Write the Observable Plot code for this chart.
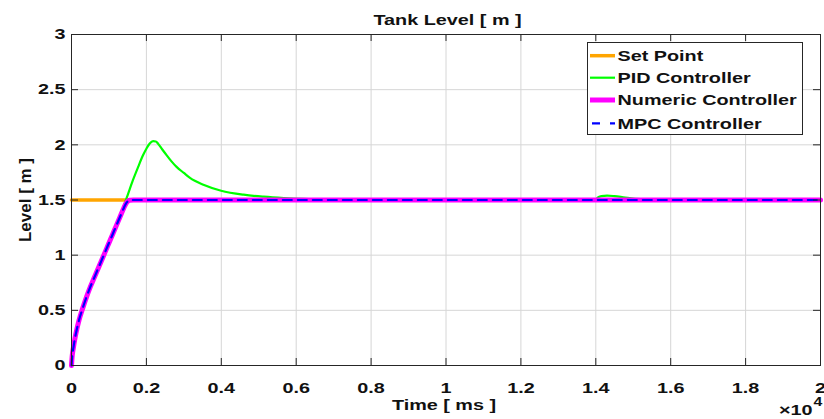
<!DOCTYPE html>
<html><head><meta charset="utf-8">
<script src="https://cdn.jsdelivr.net/npm/d3@7"></script>
<script src="https://cdn.jsdelivr.net/npm/@observablehq/plot@0.6"></script>
<style>body{margin:0;background:#fff;overflow:hidden}</style>
</head><body><div id="chart"></div>
<script>
// ---- data (time in ms, level in m) ----
const setTime  = [0, 20000];
const setLevel = [1.5, 1.5];

const pidTime  = [0, 20, 50, 100, 150, 200, 300, 400, 500, 600, 700, 800, 900, 1000, 1100, 1200, 1300, 1400, 1500, 1640, 1780, 1909, 2000, 2089, 2179, 2250, 2312, 2420, 2538, 2670, 2806, 3000, 3164, 3522, 3997, 4597, 5134, 5672, 6200, 7000, 8000, 14000, 14050, 14150, 14300, 14500, 14700, 14900, 15200, 15600, 16000, 20000];
const pidLevel = [0, 0.09, 0.16, 0.26, 0.34, 0.41, 0.52, 0.62, 0.71, 0.79, 0.87, 0.95, 1.03, 1.11, 1.19, 1.27, 1.35, 1.45, 1.545, 1.68, 1.80, 1.905, 1.965, 2.012, 2.033, 2.03, 2.01, 1.96, 1.907, 1.85, 1.80, 1.745, 1.70, 1.638, 1.584, 1.548, 1.53, 1.518, 1.51, 1.504, 1.5, 1.5, 1.522, 1.535, 1.54, 1.535, 1.527, 1.518, 1.508, 1.502, 1.5, 1.5];

const numTime  = [0, 20, 50, 100, 150, 200, 300, 400, 500, 600, 700, 800, 900, 1000, 1100, 1200, 1300, 1400, 1450, 1500, 1550, 1650, 2000, 20000];
const numLevel = [0, 0.09, 0.16, 0.26, 0.34, 0.41, 0.52, 0.62, 0.71, 0.79, 0.87, 0.95, 1.03, 1.11, 1.19, 1.27, 1.35, 1.43, 1.465, 1.487, 1.497, 1.5, 1.5, 1.5];

const mpcTime  = [0, 20, 50, 100, 150, 200, 300, 400, 500, 600, 700, 800, 900, 1000, 1100, 1200, 1300, 1400, 1450, 1500, 1550, 1650, 2000, 20000];
const mpcLevel = [0, 0.09, 0.16, 0.26, 0.34, 0.41, 0.52, 0.62, 0.71, 0.79, 0.87, 0.95, 1.03, 1.11, 1.19, 1.27, 1.35, 1.43, 1.465, 1.487, 1.497, 1.5, 1.5, 1.5];

const xTicks = [0, 2000, 4000, 6000, 8000, 10000, 12000, 14000, 16000, 18000, 20000];
const xTickLabels = ["0", "0.2", "0.4", "0.6", "0.8", "1", "1.2", "1.4", "1.6", "1.8", "2"];
const yTicks = [0, 0.5, 1, 1.5, 2, 2.5, 3];
const yTickLabels = ["0", "0.5", "1", "1.5", "2", "2.5", "3"];

const seriesNames = ["Set Point", "PID Controller", "Numeric Controller", "MPC Controller"];
const seriesColors = ["#FFA500", "#00FF00", "#FF00FF", "#0000FF"];

const titleText = "Tank Level [ m ]";
const xLabel = "Time [ ms ]";
const yLabel = "Level [ m ]";

// ---- chart ----
const W = 824, H = 419;
const mT = 34, mR = 4, mB = 54, mL = 71;
const fh = H - mT - mB, fw = W - mL - mR;
const axisCol = "#262626", gridCol = "#d6d6d6";
const tickLen = 7;

const svg = Plot.plot({
  width: W, height: H,
  marginTop: mT, marginRight: mR, marginBottom: mB, marginLeft: mL,
  style: {fontFamily: "'Liberation Sans', Arial, sans-serif", fontSize: "15px", fontWeight: "bold", color: "#111", background: "#fff"},
  x: {domain: [0, 20000]},
  y: {domain: [0, 3]},
  marks: [
    Plot.gridX(xTicks, {stroke: gridCol, strokeOpacity: 1}),
    Plot.gridY(yTicks, {stroke: gridCol, strokeOpacity: 1}),
    Plot.line(setLevel, {x: setTime, y: setLevel, stroke: seriesColors[0], strokeWidth: 3.5}),
    Plot.line(pidLevel, {x: pidTime, y: pidLevel, stroke: seriesColors[1], strokeWidth: 2.2, curve: "monotone-x"}),
    Plot.line(numLevel, {x: numTime, y: numLevel, stroke: seriesColors[2], strokeWidth: 5, curve: "monotone-x"}),
    Plot.line(mpcLevel, {x: mpcTime, y: mpcLevel, stroke: seriesColors[3], strokeWidth: 2.2, strokeDasharray: "9,6", curve: "monotone-x"}),
    Plot.frame({stroke: axisCol, strokeWidth: 1}),
    Plot.ruleX(xTicks, {x: d => d, insetTop: fh - tickLen, stroke: axisCol}),
    Plot.ruleX(xTicks, {x: d => d, insetBottom: fh - tickLen, stroke: axisCol}),
    Plot.ruleY(yTicks, {y: d => d, insetRight: fw - tickLen, stroke: axisCol}),
    Plot.ruleY(yTicks, {y: d => d, insetLeft: fw - tickLen, stroke: axisCol}),
    Plot.axisX(xTicks, {tickSize: 0, tickPadding: 17, tickFormat: (d, i) => xTickLabels[i], label: null}),
    Plot.axisY(yTicks, {tickSize: 0, tickPadding: 6, tickFormat: (d, i) => yTickLabels[i], label: null}),
    Plot.text([titleText], {frameAnchor: "top", dy: -14, dx: 1.5, lineAnchor: "middle", fill: "#111"}),
    Plot.text([xLabel], {frameAnchor: "bottom", dy: 40, dx: -2, lineAnchor: "middle", fill: "#111"}),
    Plot.text([yLabel], {frameAnchor: "left", dx: -46, rotate: -90, textAnchor: "middle", lineAnchor: "middle", fontSize: 17, fill: "#111"}),
    Plot.text(["\u00d710"], {frameAnchor: "bottom-right", dx: -8, dy: 45, textAnchor: "end", lineAnchor: "middle", fill: "#111"}),
    Plot.text(["4"], {frameAnchor: "bottom-right", dx: -7, dy: 37, textAnchor: "start", lineAnchor: "middle", fontSize: 12, fill: "#111"})
  ]
});

document.getElementById("chart").appendChild(svg);

// ---- legend ----
const lg = d3.select(svg).append("g").attr("text-anchor", "start");
lg.append("rect").attr("x", 587.5).attr("y", 42.5).attr("width", 215).attr("height", 92)
  .attr("fill", "#fff").attr("stroke", axisCol).attr("stroke-width", 1);
const rowY = [55.7, 77.7, 100, 123.3];
const swW = [3.5, 2.2, 5, 2.2];
seriesNames.forEach((name, i) => {
  const ln = lg.append("line").attr("x1", 590).attr("x2", 615).attr("y1", rowY[i]).attr("y2", rowY[i])
    .attr("stroke", seriesColors[i]).attr("stroke-width", swW[i]);
  if (i === 3) ln.attr("x1", 592).attr("stroke-dasharray", "8,10");
  lg.append("text").attr("x", 617.5).attr("y", rowY[i]).attr("dy", "0.35em").attr("text-anchor", "start")
    .attr("font-size", 15).attr("font-weight", "bold").attr("fill", "#111").text(name);
});

// horizontally stretched lettering, as in the reference image
svg.querySelectorAll("text").forEach(t => {
  if (t.textContent === yLabel) return;
  const L = t.getComputedTextLength();
  if (L > 0) { t.setAttribute("textLength", (L * 1.32).toFixed(1)); t.setAttribute("lengthAdjust", "spacingAndGlyphs"); }
});
</script>
</body></html>
